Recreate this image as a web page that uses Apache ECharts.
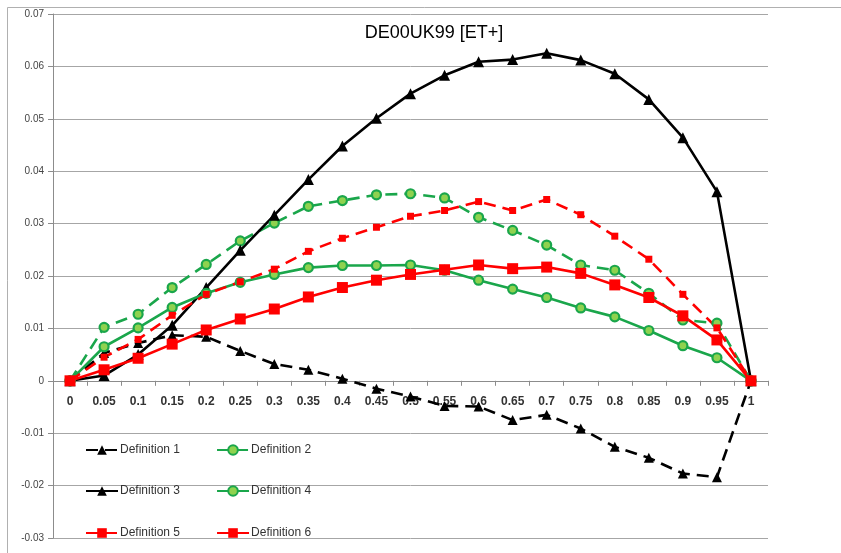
<!DOCTYPE html>
<html>
<head>
<meta charset="utf-8">
<script src="https://cdn.jsdelivr.net/npm/echarts@6/dist/echarts.min.js"></script>
<style>html,body{margin:0;padding:0;background:#fff}#c{width:841px;height:553px}</style>
</head>
<body>
<div id="c"></div>
<script>
const titleText = 'DE00UK99 [ET+]';
const categories = ['0','0.05','0.1','0.15','0.2','0.25','0.3','0.35','0.4','0.45','0.5','0.55','0.6','0.65','0.7','0.75','0.8','0.85','0.9','0.95','1'];
const yTicks = {min: -0.03, max: 0.07, interval: 0.01};
const seriesNames = ['Definition 1','Definition 2','Definition 3','Definition 4','Definition 5','Definition 6'];
const def1 = [0,0.0053,0.0072,0.0087,0.0084,0.0057,0.0032,0.0021,0.0004,-0.0015,-0.0030,-0.0048,-0.0049,-0.0075,-0.0065,-0.0091,-0.0126,-0.0147,-0.0177,-0.0184,0];
const def2 = [0,0.0102,0.0127,0.0178,0.0222,0.0267,0.0301,0.0333,0.0344,0.0355,0.0357,0.0349,0.0312,0.0287,0.0259,0.0221,0.0211,0.0167,0.0116,0.0110,0];
const def3 = [0,0.0010,0.0050,0.0106,0.0178,0.0249,0.0316,0.0384,0.0448,0.0501,0.0548,0.0583,0.0609,0.0613,0.0625,0.0612,0.0586,0.0537,0.0464,0.0361,0];
const def4 = [0,0.0065,0.0101,0.0140,0.0167,0.0188,0.0203,0.0216,0.0220,0.0220,0.0221,0.0211,0.0192,0.0175,0.0159,0.0139,0.0122,0.0096,0.0067,0.0044,0];
const def5 = [0,0.0045,0.0079,0.0125,0.0165,0.0189,0.0213,0.0247,0.0272,0.0293,0.0314,0.0325,0.0342,0.0325,0.0346,0.0317,0.0276,0.0232,0.0165,0.0101,0];
const def6 = [0,0.0021,0.0043,0.0070,0.0097,0.0118,0.0137,0.0160,0.0178,0.0192,0.0203,0.0212,0.0221,0.0214,0.0217,0.0205,0.0183,0.0159,0.0124,0.0078,0];

const BLACK = '#000000', GREEN = '#1aa64b', GREENFILL = '#8fd24f', RED = '#ff0000';
const DASH = [12, 7];
const FONT = 'Liberation Sans, Arial, sans-serif';

function mk(name, data, color, dashed, symbol, size, fill, border) {
  return {
    name, type: 'line', data,
    symbol, symbolSize: size,
    lineStyle: {color, width: 2.6, type: dashed ? DASH : 'solid'},
    itemStyle: {color: fill || color, borderColor: border || color, borderWidth: border ? 2.2 : 0},
    emphasis: {disabled: true},
    z: 2
  };
}

const chart = echarts.init(document.getElementById('c'), null, {renderer: 'canvas'});
const legendBase = {
  left: 85, orient: 'horizontal', itemWidth: 32, itemHeight: 12, itemGap: 36,
  textStyle: {fontFamily: FONT, fontSize: 12, color: '#333', padding: [0,0,0,-3]},
  selectedMode: false, padding: 0
};
// zero line of the value axis sits above the grid bottom
const gridTop = 14, gridBottom = 15, plotH = 553 - gridTop - gridBottom;
const zeroOffset = -plotH * (0 - yTicks.min) / (yTicks.max - yTicks.min);
chart.setOption({
  animation: false,
  backgroundColor: '#fff',
  title: {text: titleText, left: 429, top: 19, textAlign: 'center',
    textStyle: {fontFamily: FONT, fontSize: 18, fontWeight: 'normal', color: '#000'}},
  graphic: [{type: 'rect', shape: {x: 7.5, y: 7.5, width: 900, height: 700}, style: {fill: 'none', stroke: '#b0b0b0', lineWidth: 1}, silent: true, z: -10}],
  legend: [
    Object.assign({}, legendBase, {top: 444, data: [seriesNames[0], seriesNames[1]]}),
    Object.assign({}, legendBase, {top: 485, data: [seriesNames[2], seriesNames[3]]}),
    Object.assign({}, legendBase, {top: 527, data: [seriesNames[4], seriesNames[5]]})
  ],
  grid: {left: 53, right: 73, top: gridTop, bottom: gridBottom, containLabel: false, outerBoundsMode: 'none'},
  xAxis: {
    type: 'category', data: categories, boundaryGap: true,
    position: 'bottom', offset: zeroOffset,
    axisLine: {onZero: false, lineStyle: {color: '#8c8c8c', width: 1}},
    axisTick: {show: true, length: 5, lineStyle: {color: '#8c8c8c'}},
    axisLabel: {fontFamily: FONT, fontSize: 12, fontWeight: 'bold', color: '#333', margin: 15, interval: 0},
    splitLine: {show: false}
  },
  yAxis: {
    type: 'value', min: yTicks.min, max: yTicks.max, interval: yTicks.interval,
    axisLine: {show: true, lineStyle: {color: '#8c8c8c'}},
    axisTick: {show: true, length: 5, lineStyle: {color: '#8c8c8c'}},
    axisLabel: {fontFamily: FONT, fontSize: 10, color: '#444', margin: 9,
      formatter: v => (Math.round(v * 100) / 100).toString()},
    splitLine: {show: true, lineStyle: {color: '#a6a6a6', width: 1}}
  },
  series: [
    mk(seriesNames[0], def1, BLACK, true, 'triangle', 10),
    mk(seriesNames[1], def2, GREEN, true, 'circle', 9, GREENFILL, GREEN),
    mk(seriesNames[2], def3, BLACK, false, 'triangle', 11),
    mk(seriesNames[3], def4, GREEN, false, 'circle', 9, GREENFILL, GREEN),
    mk(seriesNames[4], def5, RED, true, 'rect', 7),
    mk(seriesNames[5], def6, RED, false, 'rect', 11)
  ]
});
</script>
</body>
</html>
